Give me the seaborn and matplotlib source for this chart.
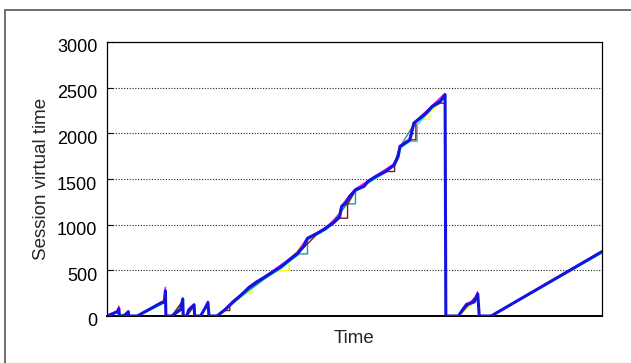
import matplotlib
matplotlib.use('Agg')
import matplotlib.pyplot as plt
import matplotlib.transforms as mtransforms
from matplotlib.patches import Rectangle
import pandas as pd
import seaborn as sns

# main session (blue); time axis is unitless 0..100
blue_t = [0, 2.1, 2.4, 2.5, 3.5, 4.3, 4.4, 6.1, 10.8, 11.6, 11.8, 11.9, 13.1, 14.9, 15.3, 15.4,
          16.1, 16.5, 17.6, 17.7, 18.9, 19.8, 20.4, 20.6, 22.2, 23.8, 25.5, 27.1, 28.7, 30.3, 32.0,
          33.6, 35.2, 36.8, 38.5, 39.7, 40.5, 42.5, 44.2, 45.8, 47.0, 47.4, 48.2, 49.0, 50.2, 51.9,
          52.7, 54.3, 56.3, 58.0, 58.8, 59.2, 61.2, 62.0, 63.3, 64.5, 65.7, 67.3, 68.3, 68.45, 71.0,
          71.8, 72.6, 74.2, 74.9, 75.2, 77.6, 100]
blue_v = [0, 47, 80, 0, 0, 47, 0, 0, 139, 157, 275, 0, 0, 73, 185, 0,
          0, 66, 121, 0, 0, 84, 146, 0, 0, 66, 157, 230, 314, 376, 431,
          486, 541, 614, 687, 760, 851, 906, 961, 1023, 1089, 1198, 1235, 1308, 1381, 1418,
          1473, 1527, 1582, 1655, 1747, 1856, 1929, 2112, 2167, 2222, 2295, 2349, 2423, 0, 0,
          66, 121, 157, 241, 0, 0, 705]

mag_t = [0, 2.1, 2.4, 2.5, 3.5, 4.3, 4.4, 6.1, 10.8, 11.6, 11.8, 11.9, 13.1, 14.9, 15.3, 15.4,
         16.1, 16.5, 17.6, 17.7, 18.9, 19.8, 20.4, 20.6, 22.2, 27.0, 32.0, 36.7, 38.4, 40.3, 44.0,
         46.8, 47.3, 50.0, 54.2, 57.8, 58.7, 59.1, 61.0, 61.9, 65.5, 68.2, 68.45, 71.0, 72.5, 74.2,
         74.85, 75.2, 77.6, 100]
mag_v = [0, 60, 110, 0, 0, 55, 0, 0, 150, 170, 314, 0, 0, 85, 200, 0,
         0, 75, 135, 0, 0, 95, 164, 0, 0, 236, 440, 620, 695, 845, 965,
         1095, 1205, 1385, 1535, 1660, 1755, 1865, 1935, 2115, 2295, 2435, 0, 0, 135, 170,
         267, 0, 0, 712]

cyan_t = [0, 2.2, 2.6, 3.6, 4.4, 4.5, 6.2, 10.9, 11.7, 11.9, 12.0, 13.2, 15.0, 15.35, 15.45,
          16.2, 17.6, 17.8, 19.0, 20.4, 20.7, 22.3, 27.2, 32.1, 35.3, 38.6, 40.6, 44.3, 47.1, 47.5,
          50.3, 54.4, 58.1, 58.9, 59.3, 61.2, 62.7, 62.7, 65.8, 67.4, 68.3, 68.5, 71.1, 72.7, 74.3,
          74.9, 75.2, 77.7, 100]
cyan_v = [0, 40, 0, 0, 40, 0, 0, 125, 145, 250, 0, 0, 65, 165, 0,
          0, 110, 0, 0, 135, 0, 0, 215, 415, 525, 670, 835, 945, 1075, 1180,
          1365, 1510, 1640, 1730, 1840, 1911, 1911, 2094, 2280, 2335, 2410, 0, 0, 110, 145,
          230, 0, 0, 690]

yel_t = [0, 2.3, 2.5, 4.3, 4.4, 6.1, 11.0, 11.8, 11.9, 13.1, 15.3, 15.4, 16.1, 17.6, 17.7,
         18.9, 20.4, 20.6, 22.2, 25.0, 28.3, 29.3, 29.3, 33.5, 35.2, 36.8, 36.8, 40.5, 44.2, 47.2,
         50.2, 54.3, 58.0, 59.2, 61.3, 62.0, 62.8, 65.1, 65.1, 67.3, 68.3, 68.5, 71.0, 74.2, 74.9,
         75.2, 77.6, 100]
yel_v = [0, 55, 0, 35, 0, 0, 140, 240, 0, 0, 160, 0, 0, 115, 0,
         0, 135, 0, 0, 130, 252, 252, 330, 470, 497, 497, 614, 840, 950, 1150,
         1370, 1515, 1640, 1840, 1920, 2090, 2156, 2156, 2222, 2335, 2410, 0, 0, 150, 250,
         0, 0, 700]

red_t = [0, 2.2, 2.5, 6.1, 10.8, 11.7, 11.7, 11.9, 13.1, 15.2, 15.4, 16.1, 17.6, 17.7, 18.9,
         20.4, 20.6, 22.2, 23.8, 24.8, 24.8, 28.7, 33.6, 38.5, 42.5, 45.8, 47.0, 48.6, 48.6, 50.2,
         54.3, 56.3, 58.1, 58.1, 59.2, 61.2, 62.4, 62.4, 65.7, 67.3, 68.3, 68.3, 68.5, 71.0, 74.9,
         75.2, 77.6, 100]
red_v = [0, 45, 0, 0, 135, 150, 185, 0, 0, 150, 0, 0, 115, 0, 0,
         140, 0, 0, 60, 60, 110, 300, 480, 680, 900, 1015, 1071, 1071, 1220, 1375,
         1525, 1582, 1582, 1674, 1850, 1929, 1929, 2130, 2290, 2331, 2331, 2423, 0, 0, 235,
         0, 0, 700]

teal_t = [0, 2.3, 2.5, 4.3, 4.4, 6.1, 11.6, 11.8, 11.9, 13.1, 15.3, 15.4, 16.1, 17.6, 17.7,
          18.9, 20.4, 20.6, 22.2, 27.1, 33.6, 38.9, 40.5, 40.5, 44.2, 48.6, 50.2, 50.2, 54.3, 58.0,
          59.2, 62.0, 65.7, 68.3, 68.5, 71.0, 74.9, 75.2, 77.6, 100]
teal_v = [0, 50, 0, 40, 0, 0, 150, 210, 0, 0, 170, 0, 0, 120, 0,
          0, 140, 0, 0, 225, 480, 680, 680, 840, 950, 1228, 1228, 1374, 1520, 1650,
          1850, 2100, 2290, 2415, 0, 0, 240, 0, 0, 700]

y_ticks = [0, 500, 1000, 1500, 2000, 2500, 3000]

series = [
    ('yellow', yel_t, yel_v, '#ffff00', 1.0),
    ('cyan', cyan_t, cyan_v, '#00e8f0', 1.0),
    ('teal', teal_t, teal_v, '#2a9494', 1.0),
    ('red', red_t, red_v, '#8b1414', 1.0),
    ('magenta', mag_t, mag_v, '#ff00ff', 1.0),
    ('blue', blue_t, blue_v, '#1414e0', 2.2),
]

sns.set_theme(style='white')
plt.rcParams['font.family'] = ['Liberation Sans', 'DejaVu Sans']

fig = plt.figure(figsize=(6.31, 3.63), dpi=100)
ax = fig.add_axes([107 / 631, 1 - 316 / 363, 495 / 631, 274 / 363])

for name, t, v, color, lw in series:
    d = pd.DataFrame({'t': t, 'v': v})
    sns.lineplot(data=d, x='t', y='v', sort=False, estimator=None, color=color,
                 linewidth=lw, ax=ax, zorder=3)

ax.set_xlim(0, 100)
ax.set_ylim(0, 3000)
ax.set_xticks([])
ax.set_yticks(y_ticks)
ax.tick_params(axis='y', direction='in', length=4, width=0.8, left=True, labelsize=13,
               pad=7, colors='black')
for lab in ax.get_yticklabels():
    lab.set_transform(lab.get_transform() + mtransforms.ScaledTranslation(0, -4 / 100, fig.dpi_scale_trans))

for yv in y_ticks[1:-1]:
    ax.axhline(yv, color='#222222', linestyle=(0, (1, 1.5)), linewidth=0.8, zorder=1)

for side in ['top', 'right', 'left', 'bottom']:
    ax.spines[side].set_color('black')
    ax.spines[side].set_linewidth(0.9)
ax.spines['bottom'].set_linewidth(1.4)

ax.set_xlabel('Time', fontsize=13.5, labelpad=10)
ax.set_ylabel('Session virtual time', fontsize=13.5, labelpad=5)

# outer frame around the figure
fig.patches.append(Rectangle((5 / 631, -0.2), 1.2, 0.2 + 1 - 10 / 363, transform=fig.transFigure,
                             fill=False, edgecolor='#555555', linewidth=1.2))

fig.savefig('out.png', dpi=100)
